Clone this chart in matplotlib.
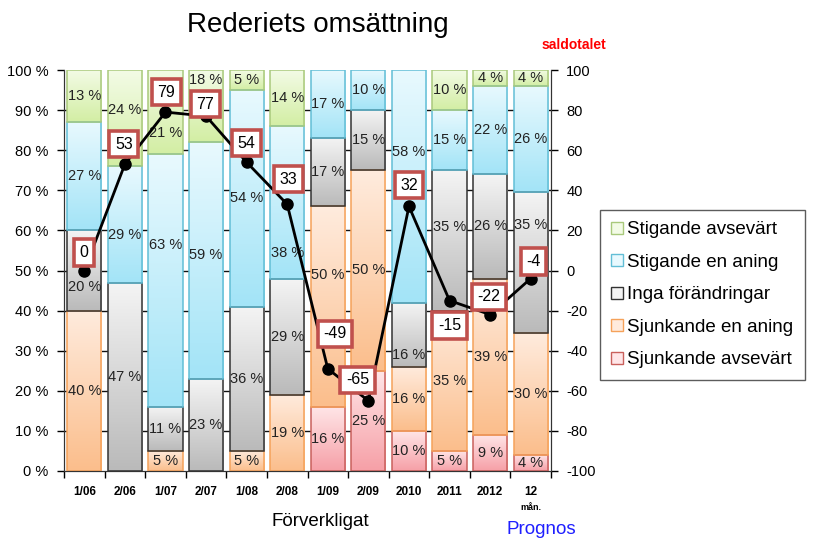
import numpy as np
import matplotlib
matplotlib.use("Agg")
import matplotlib.pyplot as plt
from matplotlib.colors import LinearSegmentedColormap
from matplotlib.patches import Patch
import matplotlib.transforms as mtransforms

plt.rcParams['font.family'] = ['Liberation Sans', 'DejaVu Sans']

categories = ['1/06', '2/06', '1/07', '2/07', '1/08', '2/08', '1/09', '2/09',
              '2010', '2011', '2012', '12 mån.']
sjunkande_avsevart = [0, 0, 0, 0, 0, 0, 16, 25, 10, 5, 9, 4]
sjunkande_en_aning = [40, 0, 5, 0, 5, 19, 50, 50, 16, 35, 39, 30]
inga_forandringar = [20, 47, 11, 23, 36, 29, 17, 15, 16, 35, 26, 35]
stigande_en_aning = [27, 29, 63, 59, 54, 38, 17, 10, 58, 15, 22, 26]
stigande_avsevart = [13, 24, 21, 18, 5, 14, 0, 0, 0, 10, 4, 4]
saldotalet = [0, 53, 79, 77, 54, 33, -49, -65, 32, -15, -22, -4]

series_names = ['Sjunkande avsevärt', 'Sjunkande en aning', 'Inga förändringar',
                'Stigande en aning', 'Stigande avsevärt']
series_vals = [sjunkande_avsevart, sjunkande_en_aning, inga_forandringar,
               stigande_en_aning, stigande_avsevart]
# (top colour, bottom colour, edge colour)
styles = [
    ('#FFE6E8', '#F6A0A7', '#C9605C'),
    ('#FFEBDD', '#FBBE8C', '#F5A25A'),
    ('#F4F4F4', '#BABABA', '#333333'),
    ('#E8F9FE', '#A3E4F7', '#62BED6'),
    ('#F3FBE6', '#D3EEA4', '#A9C97C'),
]
# manual label shifts (percent units) for segment labels: (series index, category index)
seg_shift = {(2, 0): -4, (4, 1): 2, (3, 1): -2.6, (4, 2): -5.3, (3, 2): 8.9,
             (4, 3): 6.5, (3, 3): 1.4, (3, 5): -12.7, (1, 6): 7.9, (3, 8): 8.6,
             (2, 8): -5, (2, 9): 3.4, (2, 11): 9.3}
# label offsets (pixels) for saldotalet boxes
lab_dx = [0, -1, 1, -1, 0, 1, 7, -11, 0, 0, -1, 3]
lab_dy = [18, 20, 20, 12, 19, 25, 35, 21, 21, -25, 18, 17]

W, H = 813, 539
fig = plt.figure(figsize=(W / 100, H / 100), dpi=100)
ax = fig.add_axes([64 / W, 1 - 471 / H, (551 - 64) / W, (471 - 70) / H])
ax2 = ax.twinx()

n = len(categories)
x = np.arange(n)
vals = np.array(series_vals, dtype=float)
tot = vals.sum(axis=0)
norm = vals / tot * 100
bottom = np.zeros(n)
bw = 0.84
grad = np.linspace(0, 1, 64).reshape(-1, 1)
handles = []
for k in range(len(series_names)):
    top_c, bot_c, edge_c = styles[k]
    cmap = LinearSegmentedColormap.from_list('g%d' % k, [bot_c, top_c])
    bars = ax.bar(x, norm[k], bw, bottom=bottom, color=bot_c, edgecolor='none',
                  linewidth=0, zorder=2)
    for p, v in zip(bars.patches, vals[k]):
        if v <= 0:
            p.set_visible(False)
            continue
        bx, by = p.get_x(), p.get_y()
        bwid, bh = p.get_width(), p.get_height()
        im = ax.imshow(grad, cmap=cmap, origin='lower', aspect='auto',
                       extent=[bx, bx + bwid, by, by + bh], zorder=2.5,
                       interpolation='bilinear')
        im.set_clip_path(p)
    eb = ax.bar(x, norm[k], bw, bottom=bottom, facecolor='none', edgecolor=edge_c,
                linewidth=1.1, zorder=3)
    for p, v in zip(eb.patches, vals[k]):
        if v <= 0:
            p.set_visible(False)
    for i in range(n):
        if vals[k][i] > 0:
            yy = bottom[i] + norm[k][i] / 2 + seg_shift.get((k, i), 0)
            ax.text(x[i], yy, '%d %%' % vals[k][i],
                    ha='center', va='center', fontsize=10.5, color='#222222', zorder=4)
    handles.append(Patch(facecolor=top_c, edgecolor=edge_c if k != 2 else '#333333',
                         linewidth=1.0, label=series_names[k]))
    bottom = bottom + norm[k]

ax.set_xlim(-0.5, n - 0.5)
ax.set_ylim(0, 100)
ax.set_yticks(np.arange(0, 101, 10))
ax.set_yticklabels(['%d %%' % v for v in range(0, 101, 10)], fontsize=10.5)
for yv in range(10, 100, 10):
    ax.axhline(yv, color='#111111', linewidth=1.0, zorder=1)
ax.set_xticks(x)
labels = [c.split(' ')[0] for c in categories]
ax.set_xticklabels(labels, fontsize=8.5, fontweight='bold')
ax.set_xticks(np.arange(-0.5, n, 1), minor=True)
ax.tick_params(axis='x', which='major', length=0, pad=11)
ax.tick_params(axis='x', which='minor', length=5, direction='out', width=1)
ax.tick_params(axis='y', length=5, direction='out', width=1, pad=6)
trans = mtransforms.blended_transform_factory(ax.transData, fig.transFigure)
ax.text(x[-1], 1 - 507 / H, categories[-1].split(' ')[1], transform=trans,
        ha='center', va='center', fontsize=6.5, fontweight='bold')
for a in (ax, ax2):
    a.spines['top'].set_visible(False)
    a.spines['left'].set_color('#333333')
    a.spines['right'].set_color('#333333')
    a.spines['bottom'].set_color('#333333')

ax2.set_ylim(-100, 100)
ax2.set_yticks(np.arange(-100, 101, 20))
ax2.set_yticklabels([str(v) for v in range(-100, 101, 20)], fontsize=10.5)
ax2.tick_params(axis='y', length=5, direction='out', width=1, pad=6)
ax2.plot(x, saldotalet, color='black', linewidth=2, marker='o', markersize=8,
         zorder=5)
for i in range(n):
    ax2.annotate(str(saldotalet[i]), (x[i], saldotalet[i]),
                 xytext=(lab_dx[i] * 0.72, lab_dy[i] * 0.72), textcoords='offset points',
                 ha='center', va='center', fontsize=11.5, zorder=6,
                 bbox=dict(boxstyle='square,pad=0.35', facecolor='white',
                           edgecolor='#C0504D', linewidth=2.6))

fig.text(318 / W, 1 - 25 / H, 'Rederiets omsättning', ha='center', va='center',
         fontsize=20)
fig.text(574 / W, 1 - 45 / H, 'saldotalet', ha='center', va='center',
         fontsize=10, color='#FF0000', fontweight='bold')
fig.text(320 / W, 1 - 521 / H, 'Förverkligat', ha='center', va='center', fontsize=13.5)
fig.text(541 / W, 1 - 529 / H, 'Prognos', ha='center', va='center', fontsize=13.5,
         color='#1F1FFF')

leg = fig.legend(handles=handles[::-1], loc='upper left',
                 bbox_to_anchor=(600 / W, 1 - 210 / H), fontsize=13.5,
                 frameon=True, fancybox=False, edgecolor='#333333',
                 handlelength=0.6, handleheight=0.6, handletextpad=0.25,
                 labelspacing=0.83, borderpad=0.6, borderaxespad=0)
leg.get_frame().set_linewidth(1.0)

fig.savefig('out.png', dpi=100)
